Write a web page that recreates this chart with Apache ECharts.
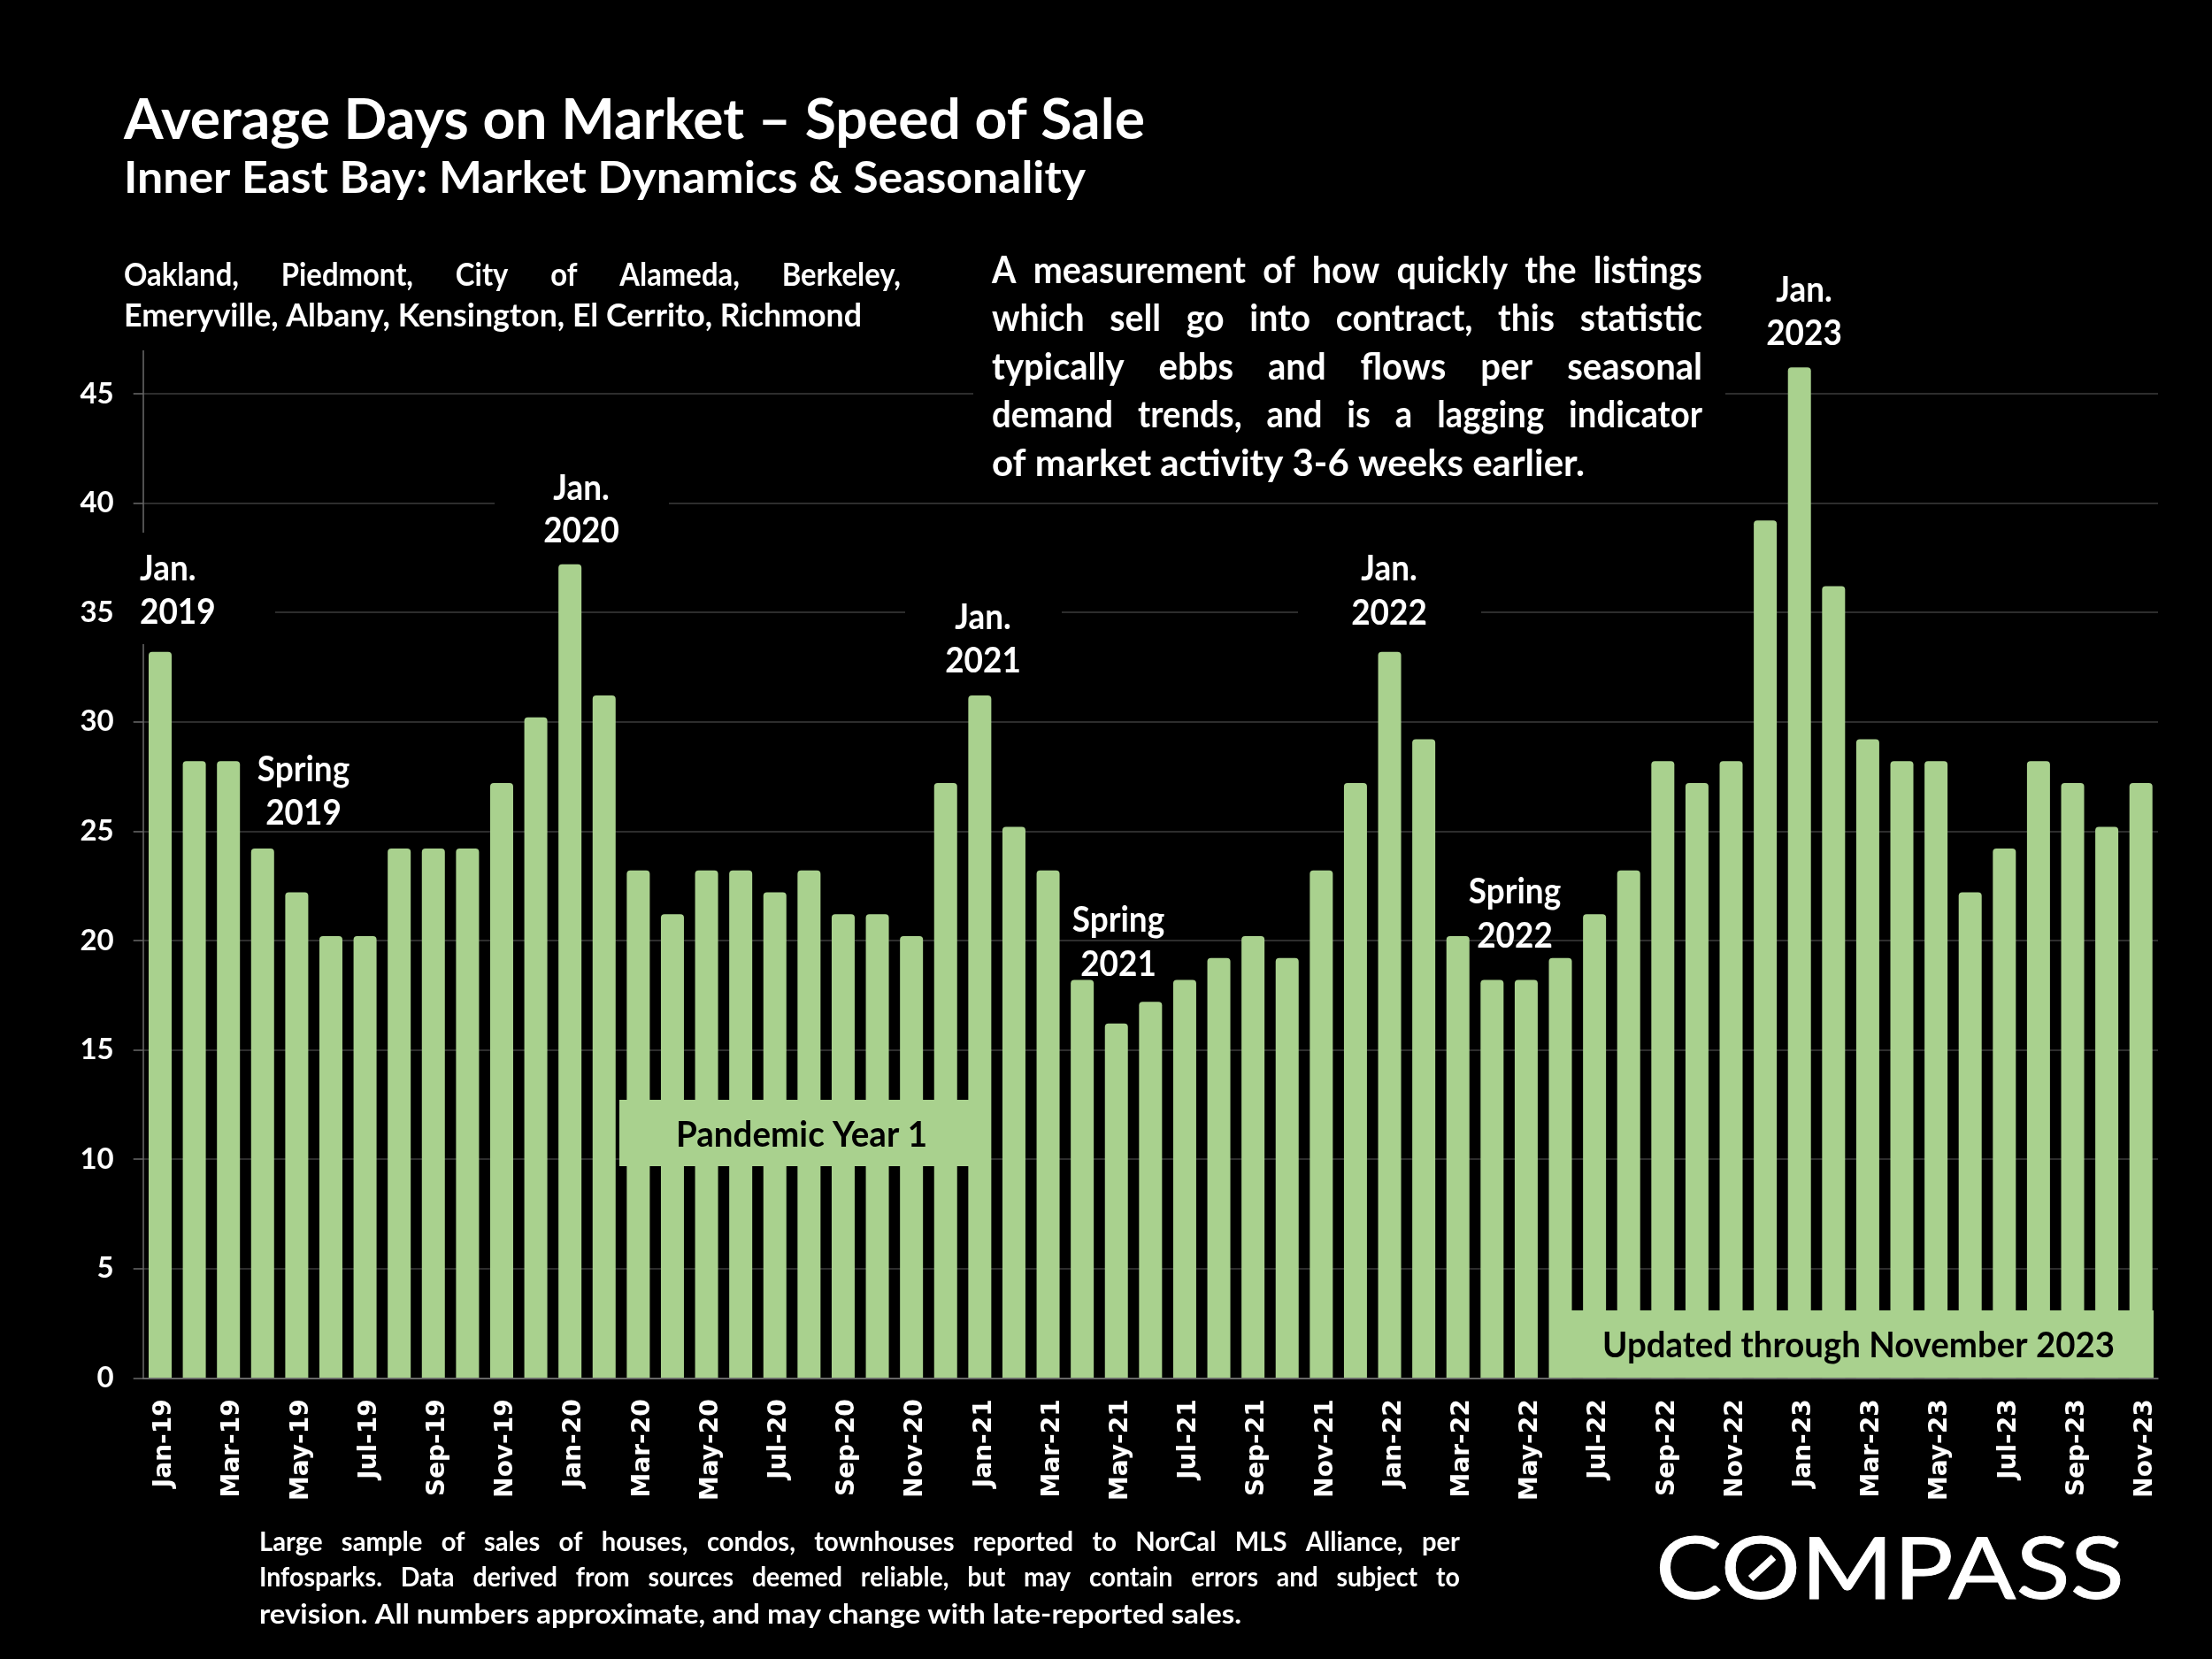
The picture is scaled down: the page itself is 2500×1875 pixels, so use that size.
<![CDATA[<!DOCTYPE html>
<html><head><meta charset="utf-8">
<style>html,body{margin:0;padding:0;background:#000}#c{width:2500px;height:1875px}</style>
<script src="https://cdn.jsdelivr.net/npm/echarts@6/dist/echarts.min.js"></script>
</head><body><div id="c"></div>
<script>
const months = ['Jan-19','Feb-19','Mar-19','Apr-19','May-19','Jun-19','Jul-19','Aug-19','Sep-19','Oct-19','Nov-19','Dec-19',
'Jan-20','Feb-20','Mar-20','Apr-20','May-20','Jun-20','Jul-20','Aug-20','Sep-20','Oct-20','Nov-20','Dec-20',
'Jan-21','Feb-21','Mar-21','Apr-21','May-21','Jun-21','Jul-21','Aug-21','Sep-21','Oct-21','Nov-21','Dec-21',
'Jan-22','Feb-22','Mar-22','Apr-22','May-22','Jun-22','Jul-22','Aug-22','Sep-22','Oct-22','Nov-22','Dec-22',
'Jan-23','Feb-23','Mar-23','Apr-23','May-23','Jun-23','Jul-23','Aug-23','Sep-23','Oct-23','Nov-23'];
const daysOnMarket = [33.2,28.2,28.2,24.2,22.2,20.2,20.2,24.2,24.2,24.2,27.2,30.2,
37.2,31.2,23.2,21.2,23.2,23.2,22.2,23.2,21.2,21.2,20.2,27.2,
31.2,25.2,23.2,18.2,16.2,17.2,18.2,19.2,20.2,19.2,23.2,27.2,
33.2,29.2,20.2,18.2,18.2,19.2,21.2,23.2,28.2,27.2,28.2,39.2,
46.2,36.2,29.2,28.2,28.2,22.2,24.2,28.2,27.2,25.2,27.2];
const yTicks = [0,5,10,15,20,25,30,35,40,45];

const GREEN = '#A9D18E', FONT = 'Lato', NARROW = 0.9;
const ctx = document.createElement('canvas').getContext('2d');
function width(s, size, weight){ ctx.font = `${weight||700} ${size}px ${FONT}`; return ctx.measureText(s).width; }
function text(s, x, y, size, o){
  o = o || {};
  const w = o.weight || 700;
  const sx = o.fit ? o.fit / width(s, size, w) : NARROW;
  return {type:'text', x, y, z:o.z||20, scaleX:sx, silent:true,
    style:{text:s, x:0, y:0, fill:o.fill||'#fff', align:o.align||'left', verticalAlign:'middle',
      font:`${w} ${size}px ${FONT}`, stroke:o.stroke, lineWidth:o.lineWidth||0}};
}
// pads the gaps of a line with ordinary spaces so that it nearly fills the measure, then fits exactly
function justified(s, x, y, size, target){
  const words = s.split(' ');
  const sp = width(' ', size);
  const extra = target / NARROW - width(s, size);
  const n = Math.max(0, Math.floor(extra / sp / (words.length - 1)));
  const line = words.join(' '.repeat(n + 1));
  return text(line, x, y, size, {fit:target});
}
function mask(x, y, w, h){
  return {type:'rect', z:1, silent:true, shape:{x,y,width:w,height:h}, style:{fill:'#000'}};
}
function note(a, b, x, y1, y2, align){
  return [text(a, x, y1, 41, {align:align||'center'}), text(b, x, y2, 41, {align:align||'center'})];
}

const masks = [
  mask(135,602,176,126), mask(559,525,197,105), mask(1023,665,177,110),
  mask(1467,612,207,110), mask(1100,270,850,290)
];
const notes = [
  ...note('Jan.','2019',158,643,692,'left'),
  ...note('Jan.','2020',657,552,600),
  ...note('Jan.','2021',1111,698,747),
  ...note('Jan.','2022',1570,643,693),
  ...note('Jan.','2023',2039,328,377),
  ...note('Spring','2019',343,870,919),
  ...note('Spring','2021',1264,1040,1090),
  ...note('Spring','2022',1712,1008,1058)
];
const copy = [
  text('Average Days on Market – Speed of Sale',140,136,64,{fit:1154}),
  text('Inner East Bay: Market Dynamics & Seasonality',140,202,50,{fit:1087}),
  justified('Oakland, Piedmont, City of Alameda, Berkeley,',140,311,36,878),
  text('Emeryville, Albany, Kensington, El Cerrito, Richmond',140,357,36,{fit:834}),
  justified('A measurement of how quickly the listings',1121,306,42,803),
  justified('which sell go into contract, this statistic',1121,360,42,803),
  justified('typically ebbs and flows per seasonal',1121,415,42,803),
  justified('demand trends, and is a lagging indicator',1121,469,42,803),
  text('of market activity 3-6 weeks earlier.',1121,524,42,{fit:670}),
  justified('Large sample of sales of houses, condos, townhouses reported to NorCal MLS Alliance, per',293,1743,31,1357),
  justified('Infosparks. Data derived from sources deemed reliable, but may contain errors and subject to',293,1783,31,1357),
  text('revision. All numbers approximate, and may change with late-reported sales.',293,1825,31,{fit:1110})
];
const boxes = [
  {type:'rect', z:15, silent:true, shape:{x:700,y:1243,width:398,height:75}, style:{fill:GREEN}},
  text('Pandemic Year 1',764,1283,40,{fill:'#000',fit:284}),
  {type:'rect', z:15, silent:true, shape:{x:1751,y:1481,width:683,height:76}, style:{fill:GREEN}},
  text('Updated through November 2023',1811,1521,41,{fill:'#000',fit:579})
];
const logoScale = 530 / width('COMPASS', 96, 400);
const slashX = 1871 + (width('C', 96, 400) + width('O', 96, 400) / 2) * logoScale;
const logo = [
  text('COMPASS',1871,1776,96,{weight:400,fit:530,stroke:'#fff',lineWidth:0.8}),
  {type:'line', z:21, silent:true, shape:{x1:slashX-13,y1:1784,x2:slashX+13,y2:1760}, style:{stroke:'#fff',lineWidth:8}}
];

const chart = echarts.init(document.getElementById('c'), null, {width:2500, height:1875, renderer:'canvas'});
chart.setOption({
  backgroundColor:'#000',
  animation:false,
  grid:{left:161.7, right:61, top:396.5, bottom:317.7, containLabel:false},
  xAxis:{type:'category', data:months, z:3,
    axisLine:{lineStyle:{color:'#7a7a7a',width:1.5}},
    axisTick:{interval:1, length:11, lineStyle:{color:'#7a7a7a',width:1.5}},
    axisLabel:{interval:1, rotate:90, margin:24, verticalAlign:'top', padding:[-9,0,0,0], color:'#fff', fontFamily:'DejaVu Sans', fontWeight:700, fontSize:28},
    splitLine:{show:false}},
  yAxis:{type:'value', min:0, max:46.96, interval:5,
    axisLine:{show:true, lineStyle:{color:'#6a6a6a',width:1.5}},
    axisTick:{show:true, length:11, customValues:yTicks, lineStyle:{color:'#6a6a6a',width:1.5}},
    axisLabel:{margin:33, color:'#fff', fontFamily:FONT, fontWeight:700, fontSize:33, customValues:yTicks},
    splitLine:{show:true, lineStyle:{color:'#3c3c3c',width:1.5}}},
  series:[{type:'bar', data:daysOnMarket, barWidth:26, z:2,
    itemStyle:{color:GREEN, borderRadius:[4,4,0,0]}}],
  graphic:{elements:[...masks, ...notes, ...copy, ...boxes, ...logo]}
});
</script></body></html>]]>
